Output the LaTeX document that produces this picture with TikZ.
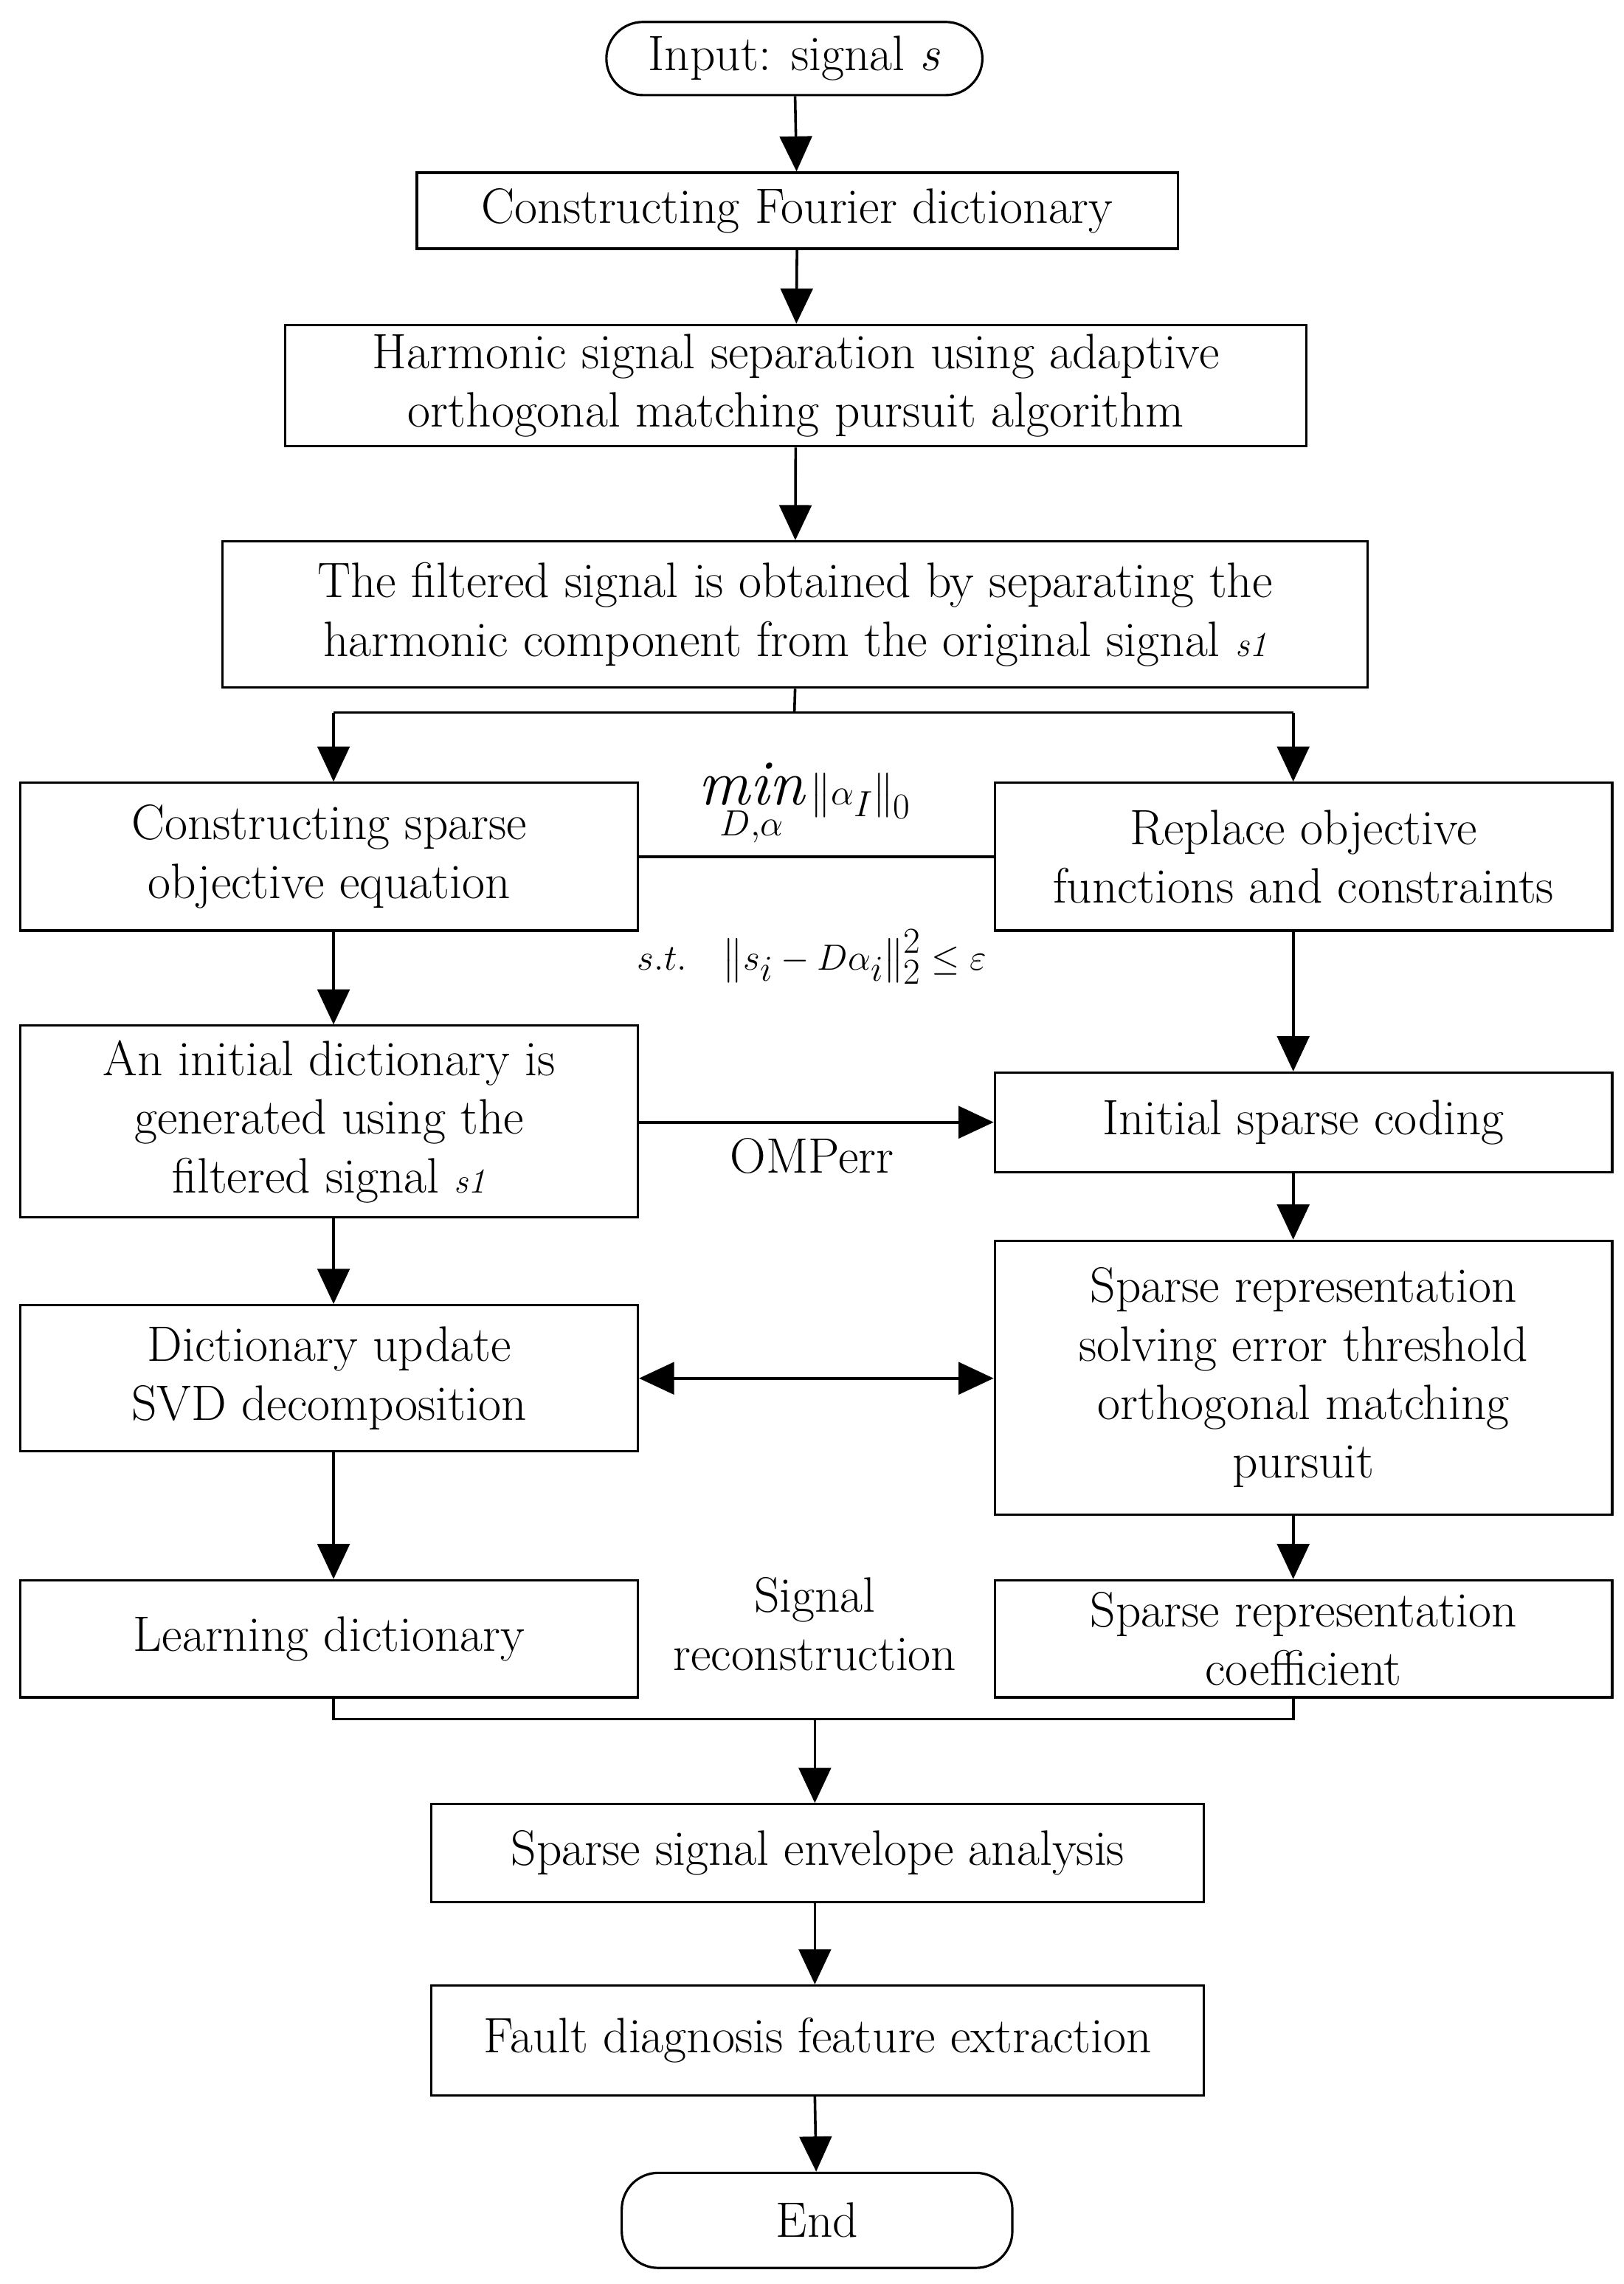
\documentclass[tikz,border=0pt]{standalone}
\usepackage{amsmath}
\usetikzlibrary{arrows.meta}
\begin{document}
\begin{tikzpicture}[x=1pt,y=-1pt,
  every node/.style={font=\fontsize{34}{40}\selectfont},
  box/.style={draw,line width=1.6pt,rectangle,align=center,inner sep=0pt},
  term/.style={draw,line width=1.6pt,rounded corners=25pt,inner sep=0pt},
  ln/.style={line width=1.8pt},
  ar/.style={line width=1.8pt,-{Triangle[length=24pt,width=22pt]}},
  dar/.style={line width=1.8pt,{Triangle[length=24pt,width=22pt]}-{Triangle[length=24pt,width=22pt]}}]
\newcommand{\sub}[1]{{\fontsize{24}{24}\selectfont\itshape #1}}
\useasboundingbox (0,0) rectangle (1110,1561);
\node[term,minimum width=257pt,minimum height=50pt] (start) at (543,40) {Input: signal \textit{s}};
\node[box,minimum width=520pt,minimum height=52pt] (b1) at (545,144) {Constructing Fourier dictionary};
\node[box,minimum width=698pt,minimum height=83pt] (b2) at (544,263.5) {Harmonic signal separation using adaptive\\orthogonal matching pursuit algorithm};
\node[box,minimum width=783pt,minimum height=100pt] (b3) at (543.5,420) {The filtered signal is obtained by separating the\\harmonic component from the original signal \sub{s1}};
\node[box,minimum width=422pt,minimum height=101pt] (l1) at (225,585.5) {Constructing sparse\\objective equation};
\node[box,minimum width=422pt,minimum height=101pt] (r1) at (891,585.5) {Replace objective\\functions and constraints};
\node[box,minimum width=422pt,minimum height=131pt] (l2) at (225,766.5) {An initial dictionary is\\generated using the\\filtered signal \sub{s1}};
\node[box,minimum width=422pt,minimum height=68pt] (r2) at (891,767) {Initial sparse coding};
\node[box,minimum width=422pt,minimum height=100pt] (l3) at (225,942) {Dictionary update\\SVD decomposition};
\node[box,minimum width=422pt,minimum height=187pt] (r3) at (891,941.5) {Sparse representation\\solving error threshold\\orthogonal matching\\pursuit};
\node[box,minimum width=422pt,minimum height=80pt] (l4) at (225,1120) {Learning dictionary};
\node[box,minimum width=422pt,minimum height=80pt] (r4) at (891,1120) {Sparse representation\\coefficient};
\node[box,minimum width=528pt,minimum height=67pt] (b5) at (559,1266.5) {Sparse signal envelope analysis};
\node[box,minimum width=528pt,minimum height=75pt] (b6) at (559,1394.5) {Fault diagnosis feature extraction};
\node[term,minimum width=267pt,minimum height=65pt] (end) at (558.5,1517.5) {End};
\node[inner sep=1pt] (f1) at (550,550) {$\mathop{\text{\fontsize{44}{44}\selectfont\itshape min}}\limits_{D,\alpha}\left\|\alpha_{I}\right\|_0$};
\node (f2) at (555,654) {$s.t.\ \ \left\|s_{i}-D\alpha_{i}\right\|_2^2\le\varepsilon$};
\node (omp) at (555,790) {OMPerr};
\node[align=center] (sr) at (557,1110) {Signal\\reconstruction};
\coordinate (sp) at (543,487);
\coordinate (spl) at (228,487);
\coordinate (spr) at (884,487);
\coordinate (mg) at (557,1175);
\coordinate (mgl) at (228,1175);
\coordinate (mgr) at (884,1175);
\draw[ar] (start) -- (b1);
\draw[ar] (b1) -- (b2);
\draw[ar] (b2) -- (b3);
\draw[ln] (b3.south) -- (sp);
\draw[ln] (spl) -- (spr);
\draw[ar] (spl) -- (spl|-l1.north);
\draw[ar] (spr) -- (spr|-r1.north);
\draw[ln] (l1) -- (r1);
\draw[ar] (l1.south-|spl) -- (l2.north-|spl);
\draw[ar] (r1.south-|spr) -- (r2.north-|spr);
\draw[ar] (l2.east|-r2) -- (r2.west);
\draw[ar] (l2.south-|spl) -- (l3.north-|spl);
\draw[ar] (r2.south-|spr) -- (r3.north-|spr);
\draw[dar] (l3.east) -- (r3.west|-l3.east);
\draw[ar] (l3.south-|spl) -- (l4.north-|spl);
\draw[ar] (r3.south-|spr) -- (r4.north-|spr);
\draw[ln] (l4.south-|mgl) -- (mgl) -- (mgr) -- (r4.south-|mgr);
\draw[ar] (mg) -- (b5.north-|mg);
\draw[ar] (b5.south-|mg) -- (b6.north-|mg);
\draw[ar] (b6.south-|mg) -- (end);
\end{tikzpicture}
\end{document}
